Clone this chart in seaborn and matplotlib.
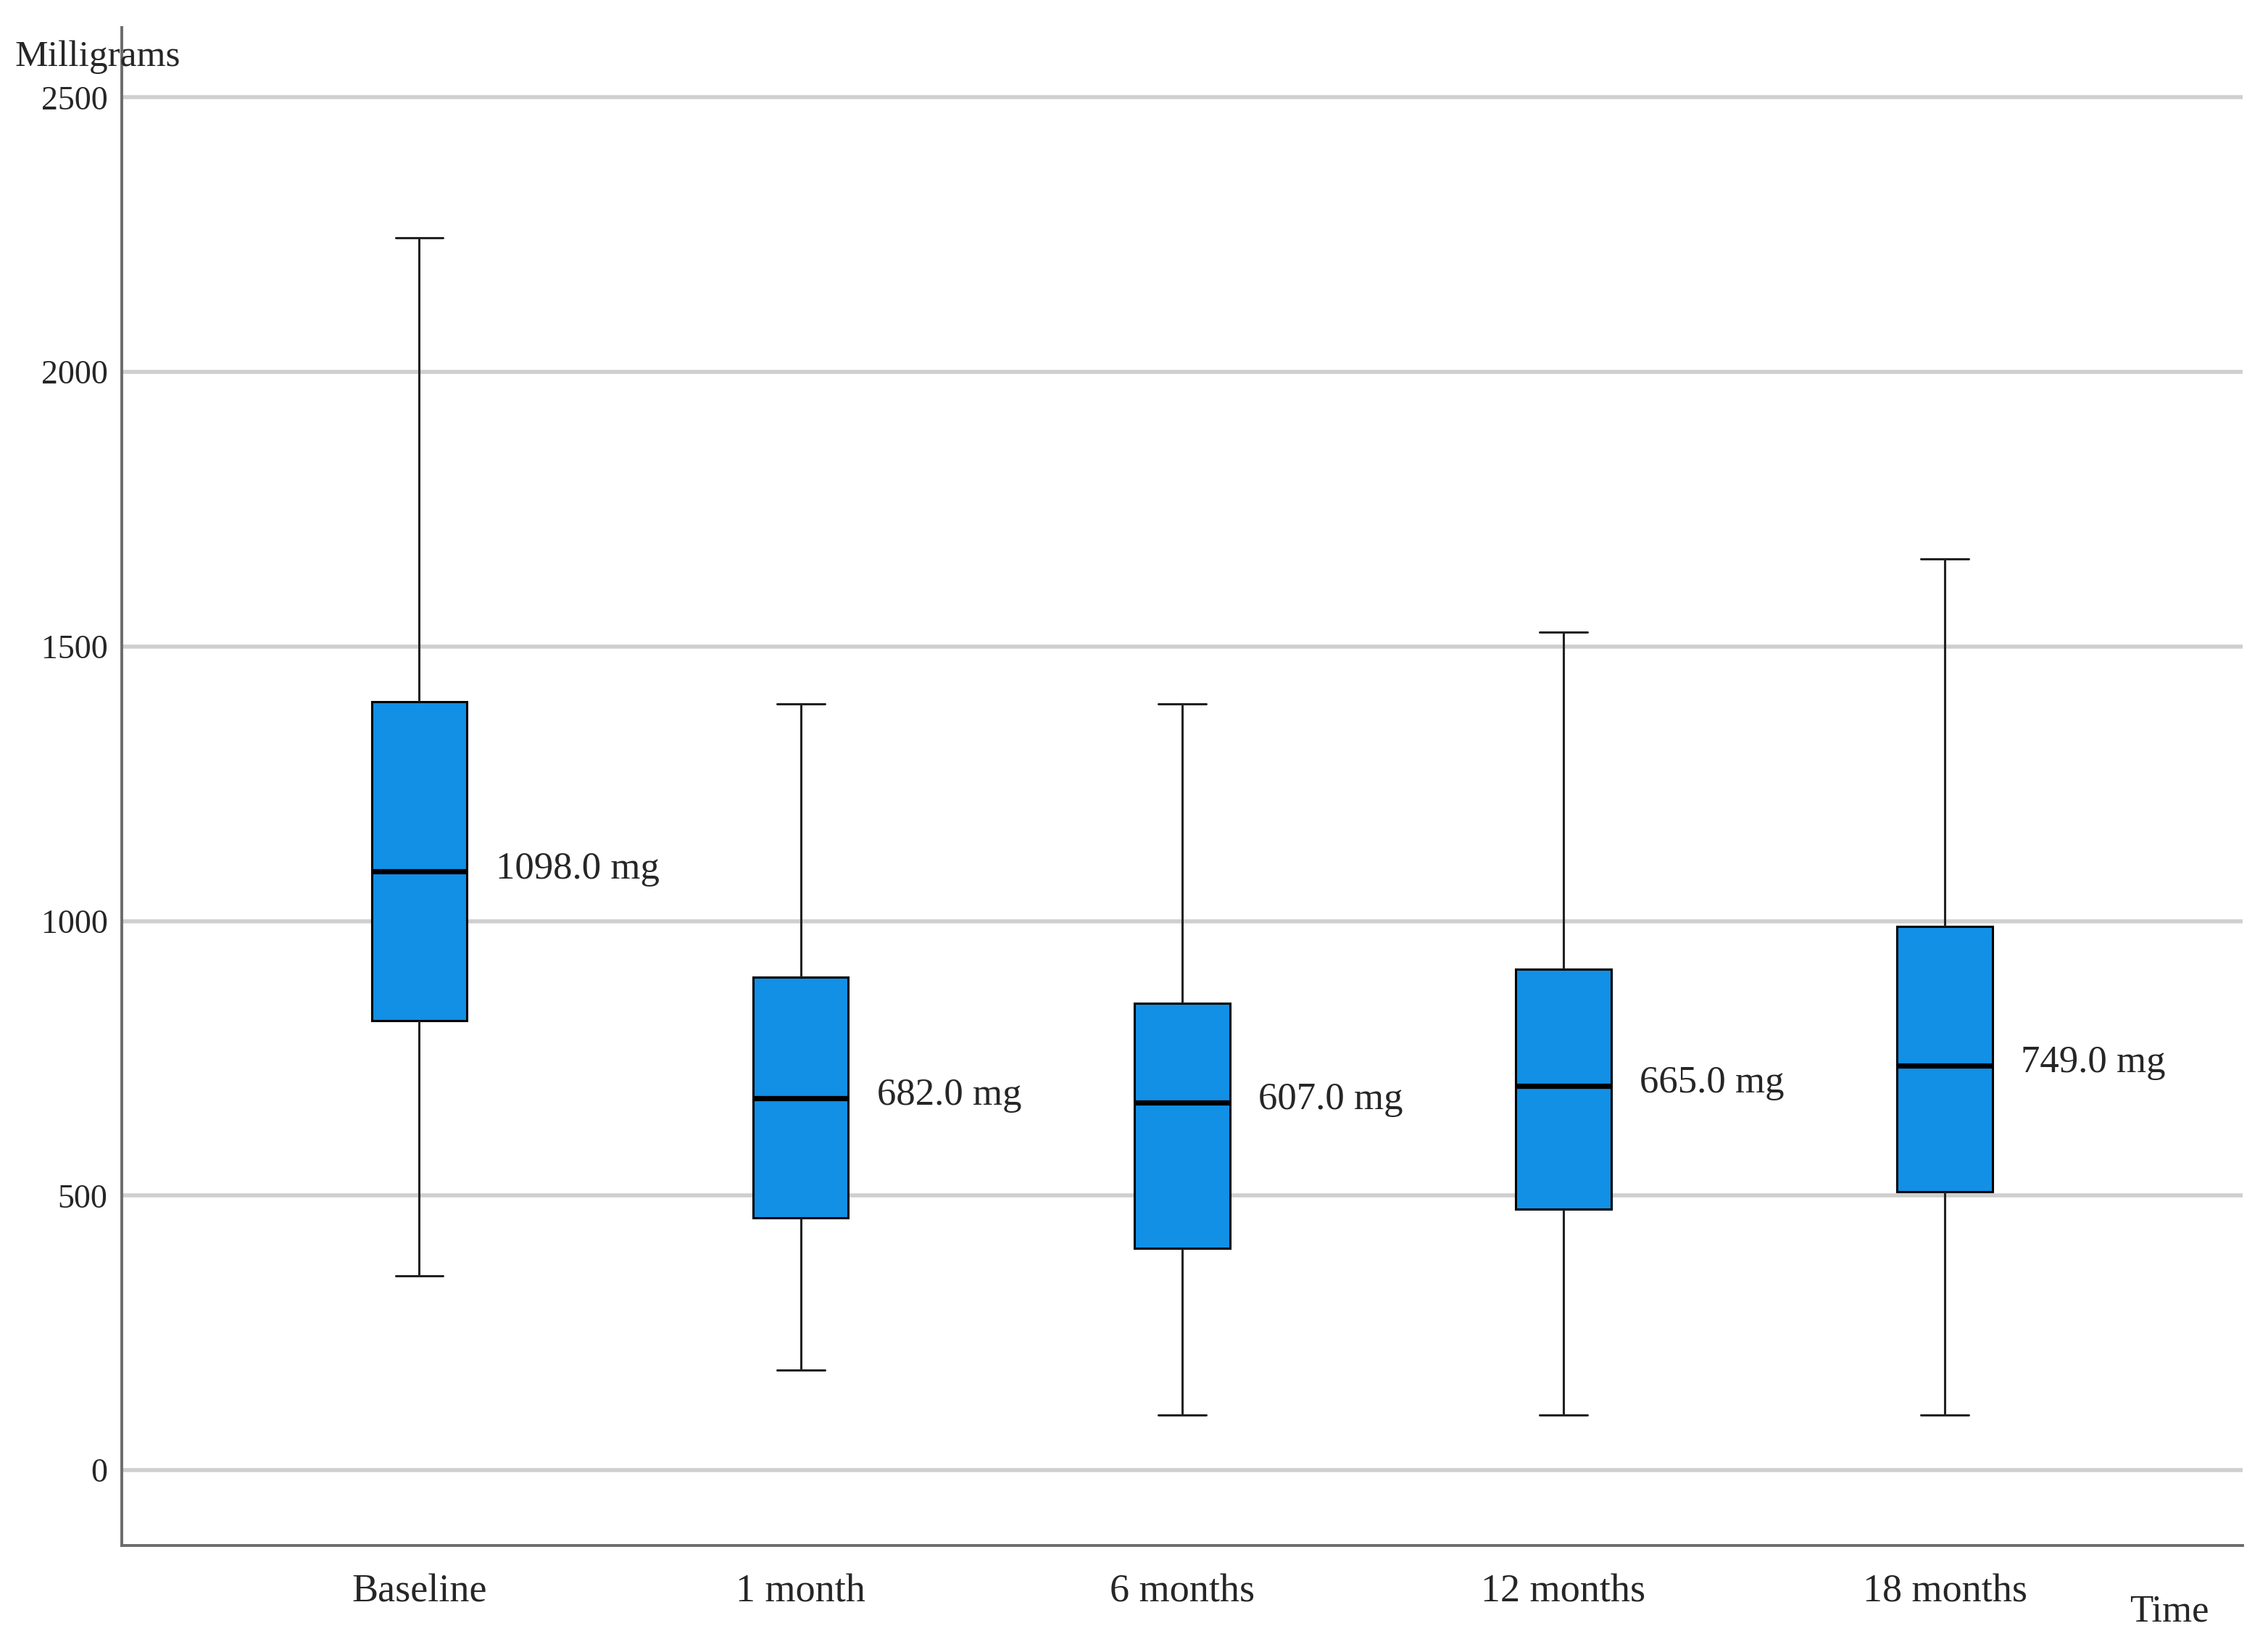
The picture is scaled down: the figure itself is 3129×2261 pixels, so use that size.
import matplotlib
matplotlib.use('Agg')
import matplotlib.pyplot as plt
import pandas as pd
import seaborn as sns

# values (mg)
times = ['Baseline', '1 month', '6 months', '12 months', '18 months']
whisker_low = [354, 182, 100, 100, 100]
q1 = [818, 459, 404, 475, 507]
medians = [1090, 678, 670, 700, 737]
q3 = [1400, 898, 850, 913, 990]
whisker_high = [2245, 1395, 1395, 1526, 1660]
median_labels = ['1098.0 mg', '682.0 mg', '607.0 mg', '665.0 mg', '749.0 mg']
yticks = [0, 500, 1000, 1500, 2000, 2500]

# five numbers per group give exactly these quartiles
rows = []
for i, t in enumerate(times):
    for v in [whisker_low[i], q1[i], medians[i], q3[i], whisker_high[i]]:
        rows.append({'time': t, 'mg': v})
df = pd.DataFrame(rows)

sns.set_style('white')
plt.rcParams['font.family'] = ['Liberation Serif', 'DejaVu Serif']

fig = plt.figure(figsize=(15.645, 11.305), dpi=200)
ax = fig.add_axes([0.0537, 0.0571, 0.935, 0.926])

sns.boxplot(data=df, x='time', y='mg', order=times, ax=ax, width=0.25,
            whis=(0, 100), color='#1190E6', saturation=1, linecolor='black',
            linewidth=1.1,
            medianprops={'color': 'black', 'linewidth': 2.6},
            whiskerprops={'color': '#222222', 'linewidth': 1.1},
            capprops={'color': '#222222', 'linewidth': 1.1})

for i, lab in enumerate(median_labels):
    ax.text(i + 0.2, medians[i] + 5, lab, fontsize=19, va='center', ha='left')

ax.set_xlim(-0.78, 4.78)
ax.set_ylim(-137, 2627)
ax.set_yticks(yticks)
ax.set_yticklabels([str(v) for v in yticks], fontsize=16.5)
ax.tick_params(axis='x', labelsize=19.5, length=0, pad=14)
ax.tick_params(axis='y', length=0, pad=7)
ax.set_xlabel('')
ax.set_ylabel('')

ax.yaxis.grid(True, color='#cfcfcf', linewidth=2.0)
ax.set_axisbelow(True)
for s in ['top', 'right']:
    ax.spines[s].set_visible(False)
for s in ['left', 'bottom']:
    ax.spines[s].set_color('#6b6b6b')
    ax.spines[s].set_linewidth(1.4)

fig.text(0.0064, 0.965, 'Milligrams', fontsize=18.5, va='center', ha='left')
fig.text(0.974, 0.0164, 'Time', fontsize=19, va='center', ha='right')

fig.savefig('out.png', dpi=200)
